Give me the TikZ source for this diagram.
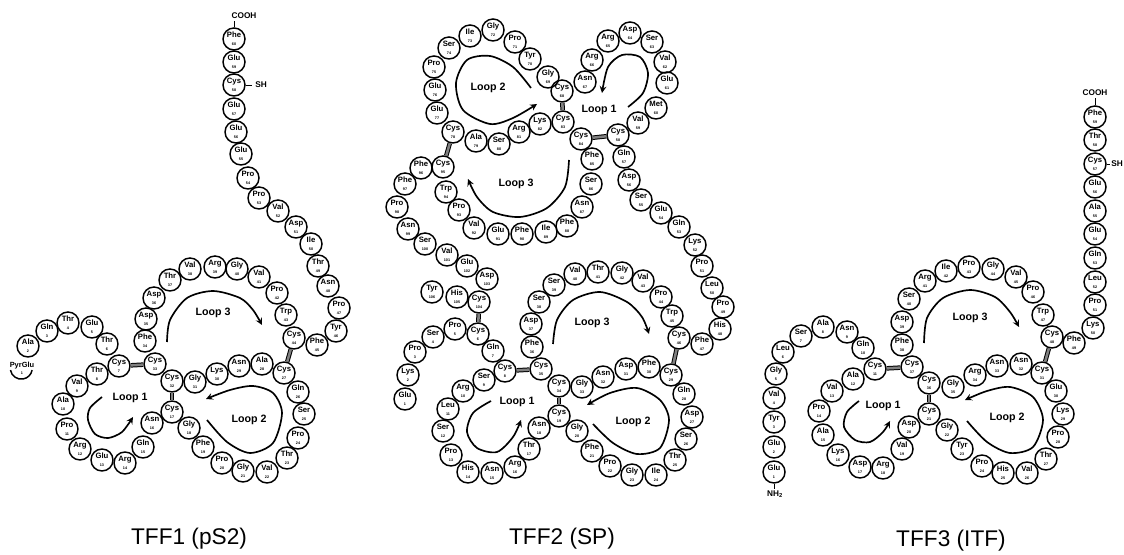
\documentclass[tikz,border=0pt]{standalone}
\usepackage{fontspec}
\setmainfont{Liberation Sans}
\usepackage{tikz}
\usetikzlibrary{arrows}
\tikzset{
  residue/.style={draw,circle,line width=1.1pt,minimum size=16.5pt,inner sep=0pt,align=center,font=\bfseries\fontsize{5.8}{5}\selectfont},
  endgroup/.style={inner sep=1pt,font=\bfseries\fontsize{6.2}{7}\selectfont},
  stem/.style={line width=0.7pt},
  ssbond/.style={line width=0.75pt,double=black!50,double distance=1.9pt},
  looparrow/.style={line width=1.25pt,-stealth},
  looptext/.style={font=\bfseries\fontsize{8}{9}\selectfont},
  tfftitle/.style={font=\fontsize{17}{20}\selectfont}
}
\def\num#1{{\fontsize{2.8}{3}\selectfont #1}}
\def\res#1#2#3#4{\node[residue] (#1) at (#2) {#3\\[0.9pt]\num{#4}};}
\begin{document}
\begin{tikzpicture}[x=0.75pt,y=-0.75pt]
    \useasboundingbox (0,0) rectangle (1124,555);
    \res{a60}{234,39}{Phe}{60}
    \res{a59}{234,62}{Glu}{59}
    \res{a58}{234,85}{Cys}{58}
    \res{a57}{234,109}{Glu}{57}
    \res{a56}{236,132}{Glu}{56}
    \res{a55}{241,154}{Glu}{55}
    \res{a54}{248,178}{Pro}{54}
    \res{a53}{259,198}{Pro}{53}
    \res{a52}{278,211}{Val}{52}
    \res{a51}{296,227}{Asp}{51}
    \res{a50}{311,244}{Ile}{50}
    \res{a49}{318,266}{Thr}{49}
    \res{a48}{328,286}{Asn}{48}
    \res{a47}{339,308}{Pro}{47}
    \res{a46}{336,331}{Tyr}{46}
    \res{a45}{317,345}{Phe}{45}
    \res{a44}{294,338}{Cys}{44}
    \res{a43}{286,315}{Trp}{43}
    \res{a42}{277,293}{Pro}{42}
    \res{a41}{259,277}{Val}{41}
    \res{a40}{237,269}{Gly}{40}
    \res{a39}{215,267}{Arg}{39}
    \res{a38}{190,269}{Val}{38}
    \res{a37}{170,280}{Thr}{37}
    \res{a36}{154,298}{Asp}{36}
    \res{a35}{146,319}{Asp}{35}
    \res{a34}{145,341}{Phe}{34}
    \res{a33}{155,364}{Cys}{33}
    \res{a32}{172,381}{Cys}{32}
    \res{a31}{195,382}{Gly}{31}
    \res{a30}{217,374}{Lys}{30}
    \res{a29}{239,366}{Asn}{29}
    \res{a28}{262,364}{Ala}{28}
    \res{a27}{284,373}{Cys}{27}
    \res{a26}{298,392}{Gln}{26}
    \res{a25}{304,414}{Ser}{25}
    \res{a24}{298,438}{Pro}{24}
    \res{a23}{287,458}{Thr}{23}
    \res{a22}{267,472}{Val}{22}
    \res{a21}{243,471}{Gly}{21}
    \res{a20}{222,463}{Pro}{20}
    \res{a19}{203,447}{Phe}{19}
    \res{a18}{189,428}{Gly}{18}
    \res{a17}{172,412}{Cys}{17}
    \res{a16}{152,423}{Asn}{16}
    \res{a15}{143,447}{Gln}{15}
    \res{a14}{125,463}{Arg}{14}
    \res{a13}{102,460}{Glu}{13}
    \res{a12}{80,449}{Arg}{12}
    \res{a11}{67,429}{Pro}{11}
    \res{a10}{63,404}{Ala}{10}
    \res{a9}{77,386}{Val}{9}
    \res{a8}{97,374}{Thr}{8}
    \res{a7}{119,366}{Cys}{7}
    \res{a6}{107,344}{Thr}{6}
    \res{a5}{92,327}{Glu}{5}
    \res{a4}{68,323}{Thr}{4}
    \res{a3}{47,331}{Gln}{3}
    \res{a2}{28,346}{Ala}{2}
    \node[residue,draw=none] (a1) at (22,368) {\phantom{Cys}\\[0.9pt]\num{1}};
    \draw[line width=1.1pt] (a1.190) arc[start angle=190,end angle=350,radius=8.25pt];
    \node[endgroup,inner sep=0pt,font=\bfseries\fontsize{5.6}{5}\selectfont] (a1text) at (22,366) {PyrGlu};
    \node[endgroup] (acooh) at (244,16) {COOH};
    \node[endgroup,inner sep=2pt] (ash) at (261,85) {SH};
    \draw[stem] (a60) -- (a60|-acooh.south);
    \draw[stem] (a58) -- (ash);
    \draw[ssbond] (a7) -- (a33);
    \draw[ssbond] (a32) -- (a17);
    \draw[ssbond] (a27) -- (a44);
    \draw[looparrow] plot[smooth] coordinates {(167,342) (170,320) (187,298) (213,291) (240,298) (253,310) (262,325)};
    \draw[looparrow] plot[smooth] coordinates {(207,420) (227,442) (250,453) (273,443) (282,413) (273,393) (253,386) (230,390) (206,399)};
    \draw[looparrow] plot[smooth] coordinates {(102,397) (90,408) (88,420) (95,434) (108,438) (122,432) (133,417)};
    \node[looptext] (al3) at (213,313) {Loop 3};
    \node[looptext] (al2) at (249,420) {Loop 2};
    \node[looptext] (al1) at (130,398) {Loop 1};
    \node[tfftitle] (atitle) at (189,539) {TFF1 (pS2)};

    \res{b1}{405,399}{Glu}{1}
    \res{b2}{408,375}{Lys}{2}
    \res{b3}{415,352}{Pro}{3}
    \res{b4}{433,337}{Ser}{4}
    \res{b5}{455,329}{Pro}{5}
    \res{b6}{478,334}{Cys}{6}
    \res{b7}{493,351}{Gln}{7}
    \res{b8}{505,371}{Cys}{8}
    \res{b9}{484,380}{Ser}{9}
    \res{b10}{463,391}{Arg}{10}
    \res{b11}{448,409}{Leu}{11}
    \res{b12}{443,431}{Ser}{12}
    \res{b13}{451,455}{Pro}{13}
    \res{b14}{468,472}{His}{14}
    \res{b15}{492,473}{Asn}{15}
    \res{b16}{515,467}{Arg}{16}
    \res{b17}{529,449}{Thr}{17}
    \res{b18}{539,428}{Asn}{18}
    \res{b19}{559,416}{Cys}{19}
    \res{b20}{577,431}{Gly}{20}
    \res{b21}{592,451}{Phe}{21}
    \res{b22}{610,466}{Pro}{22}
    \res{b23}{632,475}{Gly}{23}
    \res{b24}{656,475}{Ile}{24}
    \res{b25}{675,460}{Thr}{25}
    \res{b26}{686,439}{Ser}{26}
    \res{b27}{692,417}{Asp}{27}
    \res{b28}{684,394}{Gln}{28}
    \res{b29}{671,375}{Cys}{29}
    \res{b30}{649,367}{Phe}{30}
    \res{b31}{626,369}{Asp}{31}
    \res{b32}{603,377}{Asn}{32}
    \res{b33}{582,387}{Gly}{33}
    \res{b34}{559,386}{Cys}{34}
    \res{b35}{541,369}{Cys}{35}
    \res{b36}{532,347}{Phe}{36}
    \res{b37}{531,324}{Asp}{37}
    \res{b38}{539,302}{Ser}{38}
    \res{b39}{554,285}{Ser}{39}
    \res{b40}{575,274}{Val}{40}
    \res{b41}{598,272}{Thr}{41}
    \res{b42}{622,273}{Gly}{42}
    \res{b43}{643,281}{Val}{43}
    \res{b44}{661,297}{Pro}{44}
    \res{b45}{672,316}{Trp}{45}
    \res{b46}{679,338}{Cys}{46}
    \res{b47}{702,344}{Phe}{47}
    \res{b48}{720,329}{His}{48}
    \res{b49}{723,307}{Pro}{49}
    \res{b50}{712,288}{Leu}{50}
    \res{b51}{702,266}{Pro}{51}
    \res{b52}{695,245}{Lys}{52}
    \res{b53}{679,227}{Gln}{53}
    \res{b54}{661,213}{Glu}{54}
    \res{b55}{641,200}{Ser}{55}
    \res{b56}{629,180}{Asp}{56}
    \res{b57}{624,157}{Gln}{57}
    \res{b58}{618,135}{Cys}{58}
    \res{b59}{638,123}{Val}{59}
    \res{b60}{656,108}{Met}{60}
    \res{b61}{667,83}{Glu}{61}
    \res{b62}{665,62}{Val}{62}
    \res{b63}{652,42}{Ser}{63}
    \res{b64}{630,33}{Asp}{64}
    \res{b65}{608,41}{Arg}{65}
    \res{b66}{592,60}{Arg}{66}
    \res{b67}{585,82}{Asn}{67}
    \res{b68}{562,91}{Cys}{68}
    \res{b69}{548,77}{Gly}{69}
    \res{b70}{530,59}{Tyr}{70}
    \res{b71}{515,42}{Pro}{71}
    \res{b72}{493,30}{Gly}{72}
    \res{b73}{470,36}{Ile}{73}
    \res{b74}{449,48}{Ser}{74}
    \res{b75}{434,67}{Pro}{75}
    \res{b76}{435,90}{Glu}{76}
    \res{b77}{437,113}{Glu}{77}
    \res{b78}{453,132}{Cys}{78}
    \res{b79}{476,141}{Ala}{79}
    \res{b80}{499,144}{Ser}{80}
    \res{b81}{519,132}{Arg}{81}
    \res{b82}{540,124}{Lys}{82}
    \res{b83}{563,122}{Cys}{83}
    \res{b84}{581,139}{Cys}{84}
    \res{b85}{592,159}{Phe}{85}
    \res{b86}{591,184}{Ser}{86}
    \res{b87}{582,207}{Asn}{87}
    \res{b88}{567,226}{Phe}{88}
    \res{b89}{546,232}{Ile}{89}
    \res{b90}{522,234}{Phe}{90}
    \res{b91}{498,234}{Glu}{91}
    \res{b92}{474,228}{Val}{92}
    \res{b93}{459,210}{Pro}{93}
    \res{b94}{446,192}{Trp}{94}
    \res{b95}{443,167}{Cys}{95}
    \res{b96}{421,168}{Phe}{96}
    \res{b97}{405,184}{Phe}{97}
    \res{b98}{397,207}{Pro}{98}
    \res{b99}{408,229}{Asn}{99}
    \res{b100}{425,244}{Ser}{100}
    \res{b101}{447,255}{Val}{101}
    \res{b102}{467,266}{Glu}{102}
    \res{b103}{487,279}{Asp}{103}
    \res{b104}{479,302}{Cys}{104}
    \res{b105}{457,297}{His}{105}
    \res{b106}{432,292}{Tyr}{106}
    \draw[ssbond] (b8) -- (b35);
    \draw[ssbond] (b34) -- (b19);
    \draw[ssbond] (b29) -- (b46);
    \draw[ssbond] (b6) -- (b104);
    \draw[ssbond] (b58) -- (b84);
    \draw[ssbond] (b68) -- (b83);
    \draw[ssbond] (b78) -- (b95);
    \draw[looparrow] plot[smooth] coordinates {(531,88) (513,67) (490,56) (467,60) (456,83) (463,110) (490,124) (513,118) (537,104)};
    \draw[looparrow] plot[smooth] coordinates {(628,107) (643,93) (648,73) (640,57) (622,55) (608,67) (602,93)};
    \draw[looparrow] plot[smooth] coordinates {(569,160) (565,187) (547,208) (520,217) (493,212) (477,197) (468,179)};
    \draw[looparrow] plot[smooth] coordinates {(553,344) (557,320) (573,300) (600,292) (627,302) (642,317) (649,334)};
    \draw[looparrow] plot[smooth] coordinates {(593,424) (613,443) (637,454) (660,448) (669,420) (660,400) (637,388) (610,393) (587,405)};
    \draw[looparrow] plot[smooth] coordinates {(491,401) (473,413) (467,432) (477,448) (497,452) (513,437) (521,420)};
    \node[looptext] (bl2up) at (488,88) {Loop 2};
    \node[looptext] (bl1up) at (599,110) {Loop 1};
    \node[looptext] (bl3up) at (516,184) {Loop 3};
    \node[looptext] (bl3) at (592,323) {Loop 3};
    \node[looptext] (bl2) at (633,422) {Loop 2};
    \node[looptext] (bl1) at (517,402) {Loop 1};
    \node[tfftitle] (btitle) at (562,539) {TFF2 (SP)};

    \res{c1}{774,472}{Glu}{1}
    \res{c2}{774,447}{Glu}{2}
    \res{c3}{774,422}{Tyr}{3}
    \res{c4}{774,398}{Val}{4}
    \res{c5}{776,374}{Gly}{5}
    \res{c6}{783,352}{Leu}{6}
    \res{c7}{801,336}{Ser}{7}
    \res{c8}{823,327}{Ala}{8}
    \res{c9}{847,332}{Asn}{9}
    \res{c10}{863,348}{Gln}{10}
    \res{c11}{875,369}{Cys}{11}
    \res{c12}{853,379}{Ala}{12}
    \res{c13}{832,391}{Val}{13}
    \res{c14}{819,411}{Pro}{14}
    \res{c15}{823,435}{Ala}{15}
    \res{c16}{838,455}{Lys}{16}
    \res{c17}{860,467}{Asp}{17}
    \res{c18}{883,468}{Arg}{18}
    \res{c19}{902,449}{Val}{19}
    \res{c20}{909,427}{Asp}{20}
    \res{c21}{929,414}{Cys}{21}
    \res{c22}{947,430}{Gly}{22}
    \res{c23}{962,449}{Tyr}{23}
    \res{c24}{982,466}{Pro}{24}
    \res{c25}{1003,473}{His}{25}
    \res{c26}{1027,473}{Val}{26}
    \res{c27}{1046,459}{Thr}{27}
    \res{c28}{1058,437}{Pro}{28}
    \res{c29}{1063,414}{Lys}{29}
    \res{c30}{1056,391}{Glu}{30}
    \res{c31}{1042,373}{Cys}{31}
    \res{c32}{1021,364}{Asn}{32}
    \res{c33}{997,366}{Asn}{33}
    \res{c34}{975,375}{Arg}{34}
    \res{c35}{953,387}{Gly}{35}
    \res{c36}{929,383}{Cys}{36}
    \res{c37}{912,367}{Cys}{37}
    \res{c38}{902,345}{Phe}{38}
    \res{c39}{902,322}{Asp}{39}
    \res{c40}{909,299}{Ser}{40}
    \res{c41}{925,281}{Arg}{41}
    \res{c42}{946,271}{Ile}{42}
    \res{c43}{969,267}{Pro}{43}
    \res{c44}{993,269}{Gly}{44}
    \res{c45}{1016,277}{Val}{45}
    \res{c46}{1033,292}{Pro}{46}
    \res{c47}{1043,315}{Trp}{47}
    \res{c48}{1052,337}{Cys}{48}
    \res{c49}{1074,343}{Phe}{49}
    \res{c50}{1093,328}{Lys}{50}
    \res{c51}{1095,305}{Pro}{51}
    \res{c52}{1095,282}{Leu}{52}
    \res{c53}{1095,258}{Gln}{53}
    \res{c54}{1095,234}{Glu}{54}
    \res{c55}{1095,211}{Ala}{55}
    \res{c56}{1095,187}{Glu}{56}
    \res{c57}{1095,164}{Cys}{57}
    \res{c58}{1095,140}{Thr}{58}
    \res{c59}{1095,117}{Phe}{59}
    \node[endgroup] (ccooh) at (1095,93) {COOH};
    \node[endgroup,inner sep=1pt] (csh) at (1117,164) {SH};
    \node[endgroup] (cnh) at (775,494) {NH\textsubscript{2}};
    \draw[stem] (c59) -- (ccooh);
    \draw[stem] (c57) -- (csh);
    \draw[stem] (c1) -- (c1|-cnh.north);
    \draw[ssbond] (c11) -- (c37);
    \draw[ssbond] (c36) -- (c21);
    \draw[ssbond] (c31) -- (c48);
    \draw[looparrow] plot[smooth] coordinates {(924,343) (927,318) (943,298) (970,290) (995,297) (1010,312) (1019,327)};
    \draw[looparrow] plot[smooth] coordinates {(967,421) (987,442) (1010,453) (1033,447) (1043,420) (1033,397) (1010,387) (987,391) (965,400)};
    \draw[looparrow] plot[smooth] coordinates {(859,401) (847,412) (844,427) (855,440) (870,442) (883,432) (890,421)};
    \node[looptext] (cl3) at (970,318) {Loop 3};
    \node[looptext] (cl2) at (1007,418) {Loop 2};
    \node[looptext] (cl1) at (883,406) {Loop 1};
    \node[tfftitle] (ctitle) at (951,541) {TFF3 (ITF)};
\end{tikzpicture}
\end{document}
